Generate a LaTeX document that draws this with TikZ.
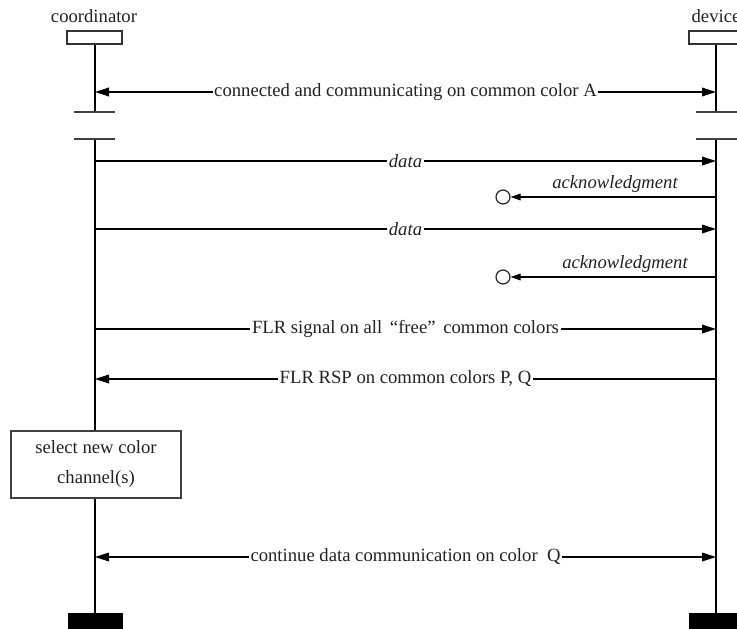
\documentclass[tikz,border=0pt]{standalone}
\usepackage{fontspec}
\setmainfont{Liberation Serif}
\usetikzlibrary{arrows.meta}
\definecolor{ink}{HTML}{222222}
\tikzset{
  life/.style={line width=1.1pt, draw=black},
  tick/.style={line width=0.9pt, draw=black!75},
  head/.style={draw=black!80, line width=1.1pt, fill=white},
  endbar/.style={fill=black, draw=black},
  msg/.style={line width=0.9pt, draw=black, -{Triangle[length=10.5pt,width=6.5pt]}},
  bimsg/.style={line width=0.9pt, draw=black, {Triangle[length=10.5pt,width=6.5pt]}-{Triangle[length=10.5pt,width=6.5pt]}},
  ackmsg/.style={line width=0.9pt, draw=black, -{Triangle[length=7.5pt,width=5pt]}},
  lbl/.style={fill=white, text=ink, inner sep=1.2pt, font=\fontsize{14}{17}\selectfont},
  ilbl/.style={lbl, font=\fontsize{14}{17}\selectfont\itshape},
  actor/.style={text=ink, inner sep=0pt, font=\fontsize{14}{17}\selectfont},
  lost/.style={circle, draw=black!85, line width=0.9pt, minimum size=10.5pt, inner sep=0pt, fill=white},
  procbox/.style={draw=black!75, line width=1.1pt, fill=white, text=ink,
    minimum width=127.5pt, minimum height=50.25pt, align=center,
    font=\fontsize{14}{22.5}\selectfont}
}
\begin{document}
\begin{tikzpicture}[x=0.75pt, y=-0.75pt]
\clip (0,0) rectangle (737,628);
\useasboundingbox (0,0) rectangle (737,628);

% actor names
\node[actor] (cname) at (94,16) {coordinator};
\node[actor] (dname) at (716,16) {device};

% lifeline tops, breaks and ends
\coordinate (ctop) at (95,44);
\coordinate (dtop) at (716,44);
\coordinate (cbrk1) at (95,112);
\coordinate (cbrk2) at (95,139);
\coordinate (dbrk1) at (716,112);
\coordinate (dbrk2) at (716,139);
\coordinate (cend) at (95,613);
\coordinate (dend) at (716,613);

% lifelines, broken between the two ticks
\draw[life] (ctop) -- (cbrk1);
\draw[life] (cbrk2) -- (cend);
\draw[life] (dtop) -- (dbrk1);
\draw[life] (dbrk2) -- (dend);
\draw[tick] (74,112) -- (115,112);
\draw[tick] (74,139) -- (115,139);
\draw[tick] (696,112) -- (737,112);
\draw[tick] (696,139) -- (737,139);

% head boxes
\draw[head] (67,31) rectangle (122,44);
\draw[head] (689,31) rectangle (744,44);

% end bars
\fill[endbar] (68,613) rectangle (122,630);
\fill[endbar] (689,613) rectangle (744,630);

% message anchor points
\foreach \n/\y in {1/92, 2/161, 3/197, 4/229, 5/277, 6/329, 7/379, 8/557} {
  \coordinate (c\n) at (95,\y);
  \coordinate (d\n) at (716,\y);
}

\draw[bimsg] (c1) -- node[lbl] {connected and communicating on common color A} (d1);

\draw[msg] (c2) -- node[ilbl] {data} (d2);

\node[lost] (ack1) at (503,197) {};
\draw[ackmsg] (d3) -- (ack1);
\node[ilbl, fill=none] (ack1lbl) at (615,184) {acknowledgment};

\draw[msg] (c4) -- node[ilbl] {data} (d4);

\node[lost] (ack2) at (503,277) {};
\draw[ackmsg] (d5) -- (ack2);
\node[ilbl, fill=none] (ack2lbl) at (625,264) {acknowledgment};

\draw[msg] (c6) -- node[lbl] {FLR signal on all \,“free”\, common colors} (d6);

\draw[msg] (d7) -- node[lbl] {FLR RSP on common colors P, Q} (c7);

\node[procbox] (sel) at (96,464.5) {select new color\\channel(s)};

\draw[bimsg] (c8) -- node[lbl] {continue data communication on color\ \ Q} (d8);

\end{tikzpicture}
\end{document}
